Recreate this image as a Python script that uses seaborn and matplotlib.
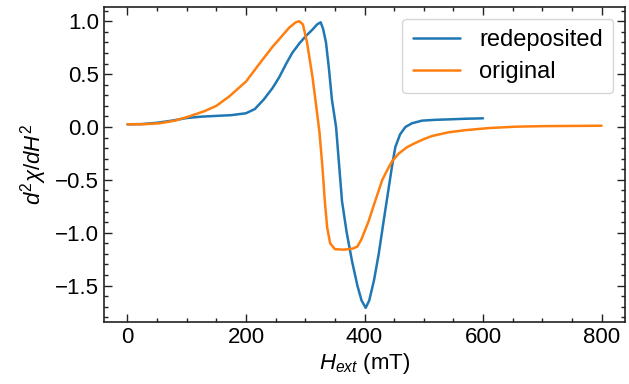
import matplotlib
matplotlib.use("Agg")
import matplotlib.pyplot as plt
from matplotlib.ticker import MultipleLocator
import seaborn as sns

# redeposited sample
redep_h = [0, 25, 50, 75, 100, 125, 150, 175, 200, 215, 230, 245, 256, 268, 278,
           290, 301, 312, 320, 326, 330, 335, 340, 345, 352, 357, 362, 370, 379,
           388, 395, 402, 408, 416, 424, 432, 441, 447, 452, 460, 469, 480, 497,
           520, 542, 570, 600]
redep_d2 = [0.025, 0.028, 0.04, 0.06, 0.085, 0.098, 0.105, 0.112, 0.13, 0.17,
            0.26, 0.37, 0.47, 0.60, 0.70, 0.79, 0.86, 0.92, 0.97, 0.99, 0.93,
            0.80, 0.55, 0.26, 0.0, -0.35, -0.70, -1.0, -1.27, -1.50, -1.64,
            -1.71, -1.64, -1.45, -1.20, -0.90, -0.57, -0.35, -0.19, -0.07, 0.0,
            0.035, 0.06, 0.068, 0.072, 0.078, 0.082]

# original sample
orig_h = [0, 25, 54, 80, 104, 130, 150, 172, 200, 227, 245, 256, 273, 284, 290,
          296, 303, 312, 318, 324, 329, 333, 337, 342, 350, 365, 380, 388, 395,
          407, 418, 430, 440, 447, 458, 472, 486, 500, 514, 542, 570, 610, 655,
          700, 750, 800]
orig_d2 = [0.025, 0.026, 0.035, 0.06, 0.10, 0.15, 0.20, 0.29, 0.43, 0.63, 0.76,
           0.83, 0.94, 0.99, 1.0, 0.97, 0.80, 0.48, 0.22, -0.05, -0.38, -0.70,
           -0.95, -1.10, -1.155, -1.16, -1.15, -1.13, -1.06, -0.89, -0.70,
           -0.50, -0.39, -0.32, -0.25, -0.19, -0.15, -0.115, -0.085, -0.05,
           -0.03, -0.01, 0.003, 0.008, 0.01, 0.012]

sns.set_theme(style="ticks")
plt.rcParams["font.family"] = ["Liberation Sans", "DejaVu Sans"]
plt.rcParams["mathtext.fontset"] = "custom"
plt.rcParams["mathtext.rm"] = "Liberation Sans"
plt.rcParams["mathtext.it"] = "Liberation Sans:italic"
plt.rcParams["axes.edgecolor"] = "#222222"
plt.rcParams["text.color"] = "black"
plt.rcParams["axes.labelcolor"] = "black"

fig, ax = plt.subplots(figsize=(6.29, 3.84), dpi=100)
fig.subplots_adjust(left=0.165, right=0.994, top=0.982, bottom=0.161)

sns.lineplot(x=redep_h, y=redep_d2, ax=ax, color="#1f77b4", lw=1.8, label="redeposited")
sns.lineplot(x=orig_h, y=orig_d2, ax=ax, color="#ff7f0e", lw=1.8, label="original")

ax.set_xlabel("$H_{ext}$ (mT)", fontsize=16, labelpad=2)
ax.set_ylabel("$d^2\\chi/dH^2$", fontsize=16, labelpad=4)

# inward ticks on all sides with minor ticks
ax.xaxis.set_major_locator(MultipleLocator(200))
ax.xaxis.set_minor_locator(MultipleLocator(50))
ax.yaxis.set_major_locator(MultipleLocator(0.5))
ax.yaxis.set_minor_locator(MultipleLocator(0.1))
ax.tick_params(which="both", direction="in", top=True, right=True, width=1.0,
               colors="#222222", labelcolor="black")
ax.tick_params(which="major", length=5.5, labelsize=16)
ax.tick_params(which="minor", length=3)
for s in ax.spines.values():
    s.set_linewidth(1.2)

leg = ax.legend(loc="upper right", fontsize=17, frameon=True, fancybox=True,
                handlelength=2.0, borderpad=0.45, labelspacing=0.4,
                borderaxespad=0.5)
for t in leg.get_texts():
    t.set_color("black")

plt.savefig("out.png", dpi=100)
